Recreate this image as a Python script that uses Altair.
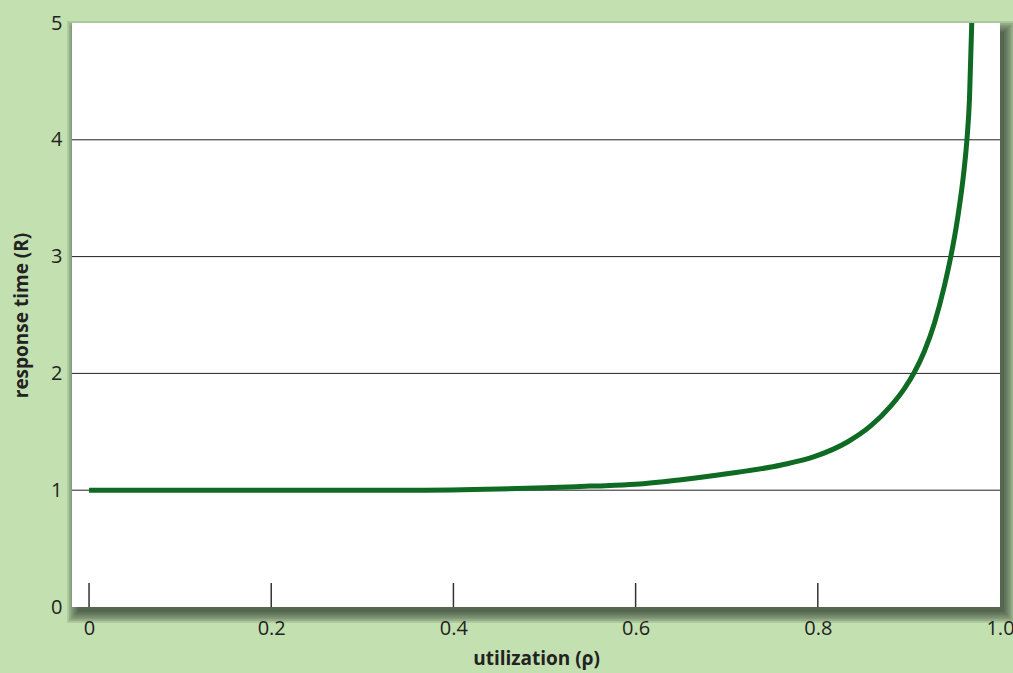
import altair as alt
import pandas as pd

# values
rho = [0.0, 0.1, 0.2, 0.3, 0.36, 0.45, 0.5, 0.55, 0.6, 0.65, 0.7, 0.76, 0.796, 0.833,
       0.858, 0.88, 0.895, 0.906, 0.917, 0.928, 0.939, 0.946, 0.9535, 0.9608, 0.9637, 0.9665, 0.969]
resp = [1.0, 1.0, 1.0, 1.0, 1.0, 1.01, 1.02, 1.035, 1.05, 1.09, 1.14, 1.216, 1.287, 1.415,
        1.55, 1.72, 1.87, 2.01, 2.19, 2.43, 2.75, 3.0, 3.33, 3.76, 4.0, 4.35, 5.0]
grid_vals = [1, 2, 3, 4]
xtick_vals = [0.0, 0.2, 0.4, 0.6, 0.8]
xlabel_vals = [0.0, 0.2, 0.4, 0.6, 0.8, 1.0]
ylabel_vals = [0, 1, 2, 3, 4, 5]

W, H = 928, 584
XMIN, XMAX = -0.0187, 1.0
YMIN, YMAX = 0.0, 5.0
PX = (XMAX - XMIN) / W
PY = (YMAX - YMIN) / H

FONT = "Open Sans"
BG = "#c3e0b0"

xs = alt.Scale(domain=[XMIN, XMAX], nice=False, zero=False)
ys = alt.Scale(domain=[YMIN, YMAX], nice=False, zero=False)

xaxis = alt.Axis(values=xlabel_vals,
                 labelExpr="datum.value == 1 ? '1.0' : format(datum.value, '')",
                 title="utilization (ρ)")
yaxis = alt.Axis(values=ylabel_vals, format="d", title="response time (R)")

# drop shadow (style layers)
shadow_rows = []
n = 7
dx, dy = 4, 5
for i in range(n):
    s = i * 1.8
    shadow_rows.append({
        "x": XMIN + (dx + 2 - s) * PX, "x2": XMAX + (dx + s) * PX,
        "y": YMIN - (dy + s) * PY, "y2": YMAX - (dy + 4 - s) * PY,
        "o": 0.16,
    })
shadow_df = pd.DataFrame(shadow_rows)
shadow = alt.Chart(shadow_df).mark_rect(color="#2e3a2c").encode(
    x=alt.X("x:Q", scale=xs, axis=xaxis), x2="x2:Q",
    y=alt.Y("y:Q", scale=ys, axis=yaxis), y2="y2:Q",
    opacity=alt.Opacity("o:Q", scale=None),
)

panel_df = pd.DataFrame({"x": [XMIN], "x2": [XMAX], "y": [YMIN], "y2": [YMAX]})
panel = alt.Chart(panel_df).mark_rect(color="white").encode(
    x=alt.X("x:Q", scale=xs, axis=xaxis), x2="x2:Q",
    y=alt.Y("y:Q", scale=ys, axis=yaxis), y2="y2:Q"
)

grid = alt.Chart(pd.DataFrame({"g": grid_vals, "a": XMIN, "b": XMAX})).mark_rule(
    color="#222", strokeWidth=1
).encode(x=alt.X("a:Q", scale=xs, axis=xaxis), x2="b:Q",
         y=alt.Y("g:Q", scale=ys, axis=yaxis))

ticks = alt.Chart(pd.DataFrame({"t": xtick_vals, "y0": 0.0, "y1": 24 * PY})).mark_rule(
    color="#333", strokeWidth=1.5
).encode(x=alt.X("t:Q", scale=xs, axis=xaxis),
         y=alt.Y("y0:Q", scale=ys, axis=yaxis), y2="y1:Q")

curve = alt.Chart(pd.DataFrame({"rho": rho, "R": resp})).mark_line(
    color="#0f6a23", strokeWidth=5, interpolate="monotone", clip=True
).encode(x=alt.X("rho:Q", scale=xs, axis=xaxis),
         y=alt.Y("R:Q", scale=ys, axis=yaxis))

chart = alt.layer(shadow, panel, grid, ticks, curve).properties(
    width=W, height=H,
    autosize=alt.AutoSizeParams(type="none"),
    padding={"left": 72, "top": 23, "right": 13, "bottom": 66},
    background=BG,
).configure_view(stroke=None, fill=None).configure_axis(
    grid=False, domain=False, ticks=False, labelFlush=False,
    labelFont=FONT, labelFontSize=20, labelColor="#222",
    titleFont=FONT, titleFontWeight="bold", titleColor="#222",
).configure_axisX(
    labelPadding=11, titleFontSize=19, titlePadding=11
).configure_axisY(
    labelPadding=10, titleFontSize=19, titlePadding=19
)

chart.save("out.html", embed_options={"renderer": "svg", "actions": False})
